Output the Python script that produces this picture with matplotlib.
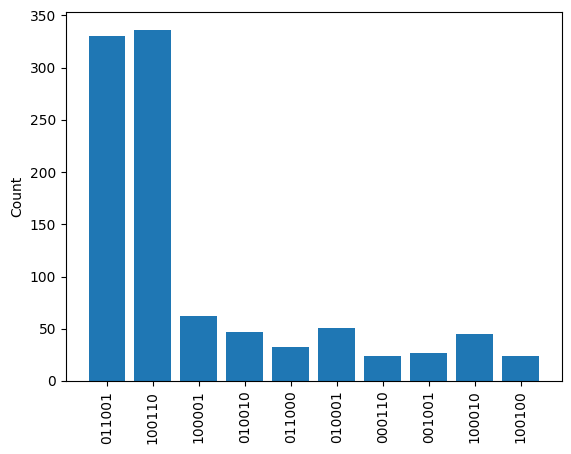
import matplotlib
matplotlib.use("Agg")
import matplotlib.pyplot as plt

states = ["011001", "100110", "100001", "010010", "011000",
          "010001", "000110", "001001", "100010", "100100"]
counts = [330, 336, 62, 47, 33, 51, 24, 27, 45, 24]

fig = plt.figure(figsize=(5.71, 4.54), dpi=100)
ax = fig.add_axes([66 / 571, 1 - 381 / 454, (561.5 - 66) / 571, (381 - 12.5) / 454])
ax.bar(states, counts)
ax.set_ylabel("Count")
ax.tick_params(axis="x", labelrotation=90)

fig.savefig("out.png", dpi=100)
